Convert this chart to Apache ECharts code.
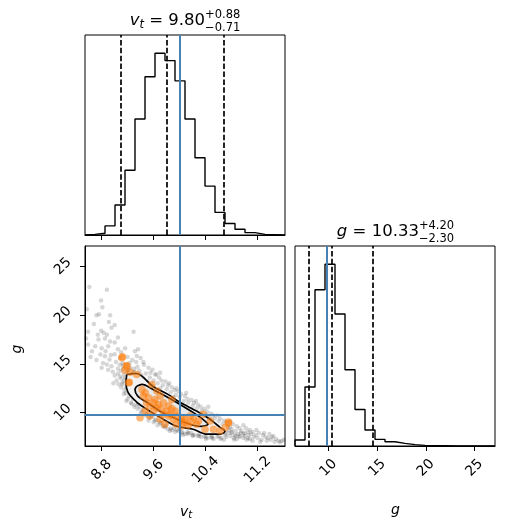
<!DOCTYPE html>
<html>
<head>
<meta charset="utf-8">
<script src="https://cdn.jsdelivr.net/npm/echarts@6/dist/echarts.min.js"></script>
<style>
  html, body { margin: 0; padding: 0; background: #fff; }
  #chart { width: 505px; height: 531px; }
</style>
</head>
<body>
<div id="chart"></div>
<script>
// axis ranges and ticks
const vtRange = [8.543, 11.62];
const gRange = [6.57, 27.1];
const vtTicks = [8.8, 9.6, 10.4, 11.2];
const gTicks = [10, 15, 20, 25];

// 1d histograms (20 bins over the range)
const vtHist = [2, 5, 27, 89, 192, 344, 469, 539, 517, 457, 344, 229, 145, 67, 34, 17, 7, 2, 1, 0];
const gHist = [18, 178, 471, 548, 398, 230, 110, 48, 20, 13, 8, 4, 2, 1, 1, 0, 0, 0, 0, 0];

// 16 / 50 / 84 percent quantiles, and truth values
const vtQuantiles = [9.09, 9.80, 10.68];
const gQuantiles = [8.03, 10.33, 14.53];
const truths = [10.0, 9.81];

// posterior samples outside the contours (v_t, g)
const samples = [
  [8.61, 22.9], [8.57, 20.6], [8.72, 20.0], [8.59, 18.3], [8.65, 16.3], [8.59, 17.0], [8.70, 16.8], [8.68, 19.1],
  [8.74, 18.0], [8.63, 15.7], [8.72, 15.4], [8.56, 17.6],
  [8.88, 22.6], [8.79, 21.5], [8.81, 20.8], [8.76, 20.1], [8.93, 20.0], [8.91, 19.3], [8.79, 18.4], [8.83, 18.2],
  [8.88, 18.0], [8.75, 17.5], [8.85, 17.6], [8.93, 17.3], [8.80, 16.6], [8.90, 16.8], [8.78, 15.96], [8.85, 15.78],
  [8.92, 15.44], [8.82, 15.1], [8.88, 14.93], [8.95, 14.76], [8.80, 14.6], [8.90, 14.4], [8.94, 15.9], [8.86, 16.3],
  [9.00, 19.0], [8.95, 18.7], [9.00, 17.2], [9.05, 17.7], [9.05, 16.5], [9.00, 16.0], [9.08, 15.6], [9.02, 15.2],
  [9.12, 15.1], [8.97, 14.2], [9.05, 14.5], [9.10, 14.3], [9.00, 13.8], [9.08, 13.7], [9.14, 13.9], [9.03, 13.3],
  [9.12, 13.1], [9.10, 12.6], [9.15, 12.3], [9.06, 12.9], [8.98, 13.0], [9.13, 14.8], [9.10, 16.2],
  [9.29, 18.3], [9.16, 16.6], [9.31, 16.3], [9.36, 16.5], [9.20, 15.7], [9.27, 15.4], [9.33, 15.2], [9.18, 14.9],
  [9.24, 14.6], [9.30, 14.5], [9.35, 14.7], [9.20, 14.2], [9.28, 14.1], [9.17, 12.0], [9.22, 11.7], [9.28, 11.4],
  [9.18, 11.2], [9.25, 11.0], [9.32, 10.8], [9.20, 12.5], [9.34, 15.8], [9.23, 15.1],
  [9.40, 15.6], [9.45, 14.9], [9.52, 14.6], [9.38, 14.3], [9.48, 14.0], [9.42, 13.7], [9.54, 13.6], [9.50, 13.2],
  [9.45, 13.4], [9.38, 10.6], [9.43, 10.3], [9.50, 10.0], [9.40, 9.9], [9.47, 9.7], [9.53, 9.5], [9.36, 10.9],
  [9.55, 14.1], [9.44, 15.2], [9.52, 9.2],
  [9.58, 14.4], [9.62, 13.9], [9.68, 13.6], [9.72, 13.3], [9.60, 13.3], [9.66, 13.0], [9.74, 12.8], [9.70, 12.5],
  [9.58, 9.6], [9.63, 9.3], [9.68, 9.1], [9.72, 8.9], [9.60, 9.0], [9.66, 8.7], [9.74, 8.6], [9.64, 13.9],
  [9.56, 9.9], [9.70, 14.1],
  [9.78, 13.2], [9.82, 12.8], [9.88, 12.6], [9.92, 12.3], [9.80, 12.4], [9.86, 12.1], [9.94, 11.8], [9.90, 11.6],
  [9.77, 8.5], [9.82, 8.3], [9.88, 8.2], [9.93, 8.0], [9.80, 8.8], [9.85, 8.1], [9.91, 8.4], [9.84, 13.0], [9.95, 12.5],
  [9.98, 12.2], [10.02, 11.9], [10.08, 11.7], [10.12, 11.4], [10.00, 11.6], [10.06, 11.2], [10.13, 11.0],
  [9.98, 8.1], [10.03, 7.9], [10.08, 7.8], [10.12, 8.0], [10.00, 8.3], [10.05, 7.7], [10.14, 7.9], [10.10, 12.0],
  [10.18, 11.3], [10.22, 11.0], [10.28, 10.8], [10.32, 10.6], [10.20, 10.7], [10.26, 10.4], [10.34, 10.2],
  [10.18, 7.9], [10.23, 7.7], [10.28, 7.6], [10.33, 7.5], [10.20, 7.6], [10.30, 7.8], [10.25, 11.2],
  [10.38, 10.4], [10.42, 10.1], [10.48, 9.9], [10.52, 9.7], [10.40, 9.8], [10.46, 9.5], [10.54, 9.4],
  [10.38, 7.6], [10.43, 7.4], [10.48, 7.5], [10.52, 7.3], [10.40, 7.3], [10.50, 7.6], [10.44, 10.6],
  [10.58, 9.7], [10.62, 9.4], [10.68, 9.2], [10.72, 9.0], [10.60, 9.1], [10.66, 8.8], [10.74, 8.6],
  [10.58, 7.5], [10.63, 7.3], [10.68, 7.2], [10.72, 7.5], [10.60, 7.6], [10.70, 7.7], [10.75, 7.9], [10.64, 7.4],
  [10.78, 9.1], [10.82, 8.8], [10.88, 8.6], [10.92, 8.4], [10.80, 8.3], [10.86, 8.1], [10.94, 7.9], [10.78, 7.6],
  [10.83, 7.4], [10.88, 7.3], [10.92, 7.6], [10.80, 7.9], [10.90, 7.8], [10.85, 7.7], [10.77, 8.5], [10.95, 8.1],
  [10.84, 7.2],
  [10.98, 8.7], [11.02, 8.4], [11.08, 8.2], [11.12, 8.0], [11.00, 7.9], [11.06, 7.7], [11.14, 7.5], [10.98, 7.4],
  [11.03, 7.2], [11.08, 7.3], [11.12, 7.1], [11.00, 7.6], [11.10, 7.8], [11.05, 8.0],
  [11.18, 8.2], [11.22, 7.9], [11.28, 7.7], [11.32, 7.5], [11.20, 7.4], [11.26, 7.2], [11.34, 7.1], [11.17, 7.7],
  [11.24, 7.0], [11.30, 7.9],
  [11.38, 7.8], [11.42, 7.5], [11.48, 7.3], [11.52, 7.1], [11.40, 7.2], [11.46, 7.0], [11.54, 6.96], [11.57, 7.09],
  [11.44, 7.6], [11.60, 7.2], [11.36, 7.4],
  [9.05, 14.0], [9.10, 13.5], [9.15, 13.3], [9.08, 14.9], [9.13, 14.5], [9.18, 14.3], [9.22, 14.4], [9.26, 13.9],
  [9.30, 14.2], [9.16, 13.6], [9.12, 12.9], [9.18, 12.6], [9.14, 11.9], [9.20, 11.4], [9.26, 10.9], [9.30, 10.6],
  [9.35, 10.4], [9.41, 10.1], [9.47, 9.9], [9.55, 9.6], [9.40, 13.9], [9.44, 13.5], [9.50, 13.1], [9.56, 12.9],
  [9.60, 12.7], [9.66, 12.3], [9.73, 12.0], [9.78, 11.7], [9.85, 11.4], [9.92, 11.1], [10.00, 10.7], [10.08, 10.4],
  [10.15, 10.0], [10.22, 9.7], [10.30, 9.3], [10.38, 8.9], [10.45, 8.5], [10.52, 8.1], [10.60, 7.9], [9.62, 9.2],
  [9.70, 8.9], [9.78, 8.6], [9.86, 8.4], [9.95, 8.2], [10.04, 8.0], [10.12, 7.8], [10.20, 7.7], [10.30, 7.6],
  [10.40, 7.5], [10.50, 7.4], [10.70, 7.9], [10.75, 8.2], [10.80, 8.0], [10.86, 7.6], [10.92, 7.5], [10.98, 7.8],
  [11.05, 7.4]
];

// over-plotted points (orange)
const extraPoints = [
  [9.12, 15.72], [9.18, 14.83], [9.16, 14.35], [9.24, 14.15], [9.34, 13.91], [9.22, 13.06], [9.57, 12.89],
  [9.42, 12.38], [9.47, 12.04], [9.44, 11.70], [9.52, 11.53], [9.62, 11.35], [9.70, 11.70], [9.60, 11.01],
  [9.67, 10.84], [9.75, 11.01], [9.83, 10.67], [9.54, 10.67], [9.65, 10.50], [9.72, 10.33], [9.80, 10.16],
  [9.88, 10.40], [9.93, 10.16], [9.47, 10.16], [9.60, 10.16], [9.75, 9.82], [9.85, 9.82], [9.95, 9.65],
  [10.03, 9.48], [10.08, 9.31], [10.16, 9.65], [10.21, 9.48], [10.01, 9.14], [10.08, 8.97], [10.18, 9.04],
  [10.29, 9.14], [9.95, 8.80], [10.03, 8.63], [10.13, 8.70], [10.26, 8.80], [9.39, 9.48], [9.77, 8.80],
  [10.36, 9.82], [10.47, 9.14], [10.39, 8.29], [10.52, 8.29], [10.62, 8.12], [10.75, 8.90], [10.70, 8.46],
  [9.83, 9.65], [9.90, 9.31], [9.70, 9.31], [9.54, 9.65], [9.49, 11.01], [9.88, 11.35], [9.65, 12.21],
  [9.11, 15.62], [9.19, 14.76], [9.22, 13.12], [10.75, 9.03]
];

// density contours (closed)
const contourOuter = [
  [9.185, 13.91], [9.338, 14.01], [9.589, 12.68], [9.820, 11.87], [10.005, 11.05], [10.266, 10.13],
  [10.466, 9.31], [10.620, 8.49], [10.697, 8.08], [10.620, 7.78], [10.420, 7.78], [10.205, 8.29],
  [9.958, 8.59], [9.697, 9.51], [9.497, 10.33], [9.343, 11.05], [9.205, 12.07], [9.174, 13.09], [9.185, 13.91]
];
const contourInner = [
  [9.338, 12.71], [9.420, 12.89], [9.589, 12.38], [9.820, 11.56], [10.005, 10.84], [10.205, 10.02],
  [10.358, 9.31], [10.435, 8.80], [10.312, 8.59], [10.158, 8.80], [9.958, 9.31], [9.697, 10.13],
  [9.497, 11.05], [9.358, 11.66], [9.312, 12.38], [9.338, 12.71]
];

const FONT = '"DejaVu Sans", sans-serif';
const BLUE = '#4682b4';

function stepData(counts, range) {
  const w = (range[1] - range[0]) / counts.length;
  const pts = [[range[0], 0]];
  counts.forEach((c, i) => pts.push([range[0] + i * w, c]));
  pts.push([range[1], counts[counts.length - 1]]);
  pts.push([range[1], 0]);
  return pts;
}

function quantileLines(q, truth) {
  const dashed = { color: '#000', width: 1.7, type: [5.5, 2.4] };
  return {
    symbol: 'none', silent: true, animation: false, label: { show: false },
    data: q.map(v => ({ xAxis: v, lineStyle: dashed }))
      .concat([{ xAxis: truth, lineStyle: { color: BLUE, width: 2, type: 'solid' } }])
  };
}

// text with sub/superscripts, laid out from measured widths
const mctx = document.createElement('canvas').getContext('2d');
function measure(text, size, italic) {
  mctx.font = (italic ? 'italic ' : '') + size + 'px "DejaVu Sans"';
  return mctx.measureText(text).width;
}
function txt(text, x, y, size, italic) {
  return {
    type: 'text', x, y, silent: true,
    style: { text, fontSize: size, fontFamily: FONT, fontStyle: italic ? 'italic' : 'normal',
      fill: '#000', align: 'left', verticalAlign: 'middle' }
  };
}
function mathText(runs, cx, cy) {
  const widths = runs.map(r => r.sup
    ? Math.max(measure(r.sup, r.size), measure(r.sub, r.size))
    : measure(r.text, r.size, r.italic));
  let x = cx - widths.reduce((a, b) => a + b, 0) / 2;
  const out = [];
  runs.forEach((r, i) => {
    if (r.sup) {
      out.push(txt(r.sup, x, cy + r.supDy, r.size, false));
      out.push(txt(r.sub, x, cy + r.subDy, r.size, false));
    } else {
      out.push(txt(r.text, x, cy + (r.dy || 0), r.size, r.italic));
    }
    x += widths[i];
  });
  return out;
}
function titleRuns(symbolRuns, q) {
  return symbolRuns.concat([
    { text: ' = ' + q[1].toFixed(2), size: 16.5 },
    { sup: '+' + (q[2] - q[1]).toFixed(2), sub: '\u2212' + (q[1] - q[0]).toFixed(2),
      size: 11.5, supDy: -5.5, subDy: 7 }
  ]);
}

const graphics = [].concat(
  mathText(titleRuns([{ text: 'v', size: 16.5, italic: true }, { text: 't', size: 11.5, italic: true, dy: 4 }], vtQuantiles), 185, 21),
  mathText(titleRuns([{ text: 'g', size: 16.5, italic: true }], gQuantiles), 395.5, 232),
  mathText([{ text: 'v', size: 14, italic: true }, { text: 't', size: 10, italic: true, dy: 3.5 }], 186, 512),
  mathText([{ text: 'g', size: 14, italic: true }], 395.5, 510),
  [{
    type: 'text', x: 17, y: 349, rotation: Math.PI / 2, silent: true,
    style: { text: 'g', fontSize: 14, fontFamily: FONT, fontStyle: 'italic', fill: '#000',
      align: 'center', verticalAlign: 'middle' }
  }]
);

const tickLabel = (margin) => ({
  show: true, rotate: 45, align: 'center', verticalAlign: 'middle', margin,
  color: '#000', fontSize: 14, fontFamily: FONT
});
const axisBase = {
  type: 'value', splitLine: { show: false },
  axisLine: { show: true, onZero: false, lineStyle: { color: '#000', width: 1 } },
  axisTick: { show: true, length: 5, lineStyle: { color: '#000', width: 1 } }
};

const chart = echarts.init(document.getElementById('chart'), null, { renderer: 'canvas' });
chart.setOption({
  animation: false,
  backgroundColor: '#fff',
  grid: [
    { left: 85, top: 35, width: 200, height: 200, show: true, borderColor: '#000', borderWidth: 1 },
    { left: 85, top: 246, width: 200, height: 200, show: true, borderColor: '#000', borderWidth: 1 },
    { left: 295, top: 246, width: 200, height: 200, show: true, borderColor: '#000', borderWidth: 1 }
  ],
  xAxis: [
    { ...axisBase, gridIndex: 0, min: vtRange[0], max: vtRange[1],
      axisTick: { ...axisBase.axisTick, customValues: vtTicks }, axisLabel: { show: false } },
    { ...axisBase, gridIndex: 1, min: vtRange[0], max: vtRange[1],
      axisTick: { ...axisBase.axisTick, customValues: vtTicks },
      axisLabel: { ...tickLabel(24), customValues: vtTicks } },
    { ...axisBase, gridIndex: 2, min: gRange[0], max: gRange[1],
      axisTick: { ...axisBase.axisTick, customValues: gTicks },
      axisLabel: { ...tickLabel(22), customValues: gTicks } }
  ],
  yAxis: [
    { type: 'value', gridIndex: 0, show: false, min: 0, max: v => v.max * 1.1 },
    { ...axisBase, gridIndex: 1, min: gRange[0], max: gRange[1],
      axisTick: { ...axisBase.axisTick, customValues: gTicks },
      axisLabel: { ...tickLabel(22), customValues: gTicks } },
    { type: 'value', gridIndex: 2, show: false, min: 0, max: v => v.max * 1.1 }
  ],
  series: [
    {
      type: 'line', xAxisIndex: 0, yAxisIndex: 0, step: 'end', showSymbol: false, silent: true,
      data: stepData(vtHist, vtRange), lineStyle: { color: '#000', width: 1.4 },
      markLine: quantileLines(vtQuantiles, truths[0])
    },
    {
      type: 'line', xAxisIndex: 2, yAxisIndex: 2, step: 'end', showSymbol: false, silent: true,
      data: stepData(gHist, gRange), lineStyle: { color: '#000', width: 1.4 },
      markLine: quantileLines(gQuantiles, truths[1])
    },
    {
      type: 'scatter', xAxisIndex: 1, yAxisIndex: 1, z: 1, silent: true,
      data: samples, symbolSize: 4.5, itemStyle: { color: 'rgba(0,0,0,0.2)' }
    },
    {
      type: 'custom', xAxisIndex: 1, yAxisIndex: 1, z: 2, silent: true,
      data: [0],
      renderItem: (params, api) => ({
        type: 'group',
        children: [
          { type: 'polygon', shape: { points: contourOuter.map(p => api.coord(p)) }, style: { fill: '#f1f1f1' } },
          { type: 'polygon', shape: { points: contourInner.map(p => api.coord(p)) }, style: { fill: '#e8e8e8' } }
        ]
      })
    },
    {
      type: 'line', xAxisIndex: 1, yAxisIndex: 1, z: 3, showSymbol: false, silent: true, smooth: 0.3,
      data: contourOuter, lineStyle: { color: '#000', width: 1.7 }
    },
    {
      type: 'line', xAxisIndex: 1, yAxisIndex: 1, z: 3, showSymbol: false, silent: true, smooth: 0.3,
      data: contourInner, lineStyle: { color: '#000', width: 1.7 }
    },
    {
      type: 'scatter', xAxisIndex: 1, yAxisIndex: 1, z: 4, silent: true,
      data: extraPoints, symbolSize: 7.5, itemStyle: { color: 'rgba(255,127,14,0.72)' },
      markLine: {
        symbol: 'none', silent: true, animation: false, label: { show: false },
        lineStyle: { color: BLUE, width: 2, type: 'solid' },
        data: [{ xAxis: truths[0] }, { yAxis: truths[1] }]
      }
    }
  ],
  graphic: { elements: graphics }
});
</script>
</body>
</html>
